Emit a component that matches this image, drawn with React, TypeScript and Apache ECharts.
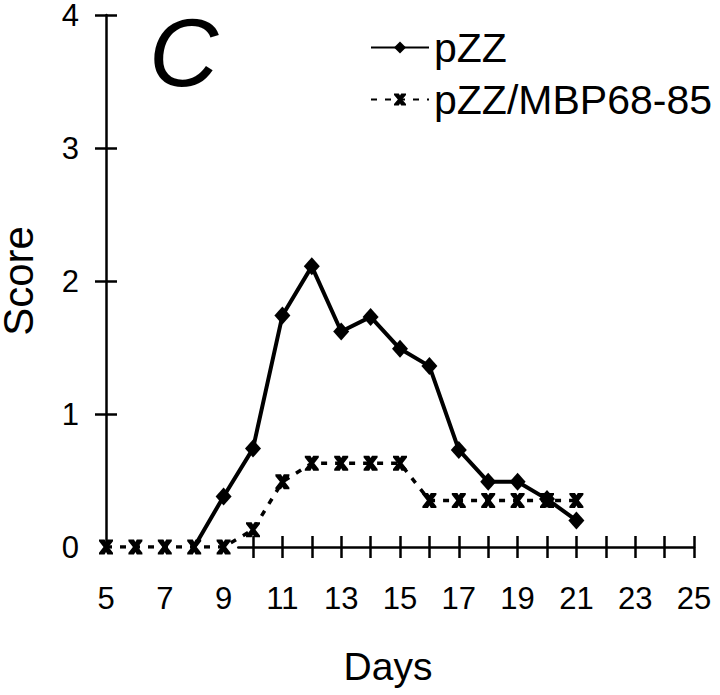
import React, { useEffect, useRef } from "react";
import * as echarts from "echarts";

const FONT = "'Liberation Sans', Arial, Helvetica, sans-serif";

// Data
const days = [5, 6, 7, 8, 9, 10, 11, 12, 13, 14, 15, 16, 17, 18, 19, 20, 21];
const pzzScores = [null, null, null, 0, 0.38, 0.74, 1.74, 2.11, 1.62, 1.73, 1.49, 1.36, 0.73, 0.49, 0.49, 0.36, 0.2];
const mbpScores = [0, 0, 0, 0, 0, 0.13, 0.49, 0.63, 0.63, 0.63, 0.63, 0.35, 0.35, 0.35, 0.35, 0.35, 0.35];
const seriesNames = ["pZZ", "pZZ/MBP68-85"];
const xTickValues = [10, 11, 12, 13, 14, 15, 16, 17, 18, 19, 20, 21, 22, 23, 24, 25];
const yTickValues = [1, 2, 3, 4];

const X_SYMBOL =
  "path://M0,0 L4,0 L5,1.6 L6,0 L10,0 L10,1.2 L6.8,5 L10,8.8 L10,10 L6,10 L5,8.4 L4,10 L0,10 L0,8.8 L3.2,5 L0,1.2 Z";

export default function App() {
  const ref = useRef<HTMLDivElement>(null);

  useEffect(() => {
    if (!ref.current) return;
    const chart = echarts.init(ref.current, null, { renderer: "svg" });

    const W = 720;
    const H = 695;
    const gl = 106;
    const gr = 26;
    const gt = 15;
    const gb = 148;
    const plotW = W - gl - gr;
    const plotH = H - gt - gb;
    const xMin = 5;
    const xMax = 25;
    const axisStart = 9.5;
    const dayW = plotW / (xMax - xMin);
    const gl1 = gl + (axisStart - xMin) * dayW;

    const black = "#000";
    const tickStyle = { color: black, width: 2.5 };

    chart.setOption({
      animation: false,
      backgroundColor: "#fff",
      textStyle: { fontFamily: FONT, color: black },
      grid: [
        { left: gl, right: gr, top: gt, bottom: gb, containLabel: false, outerBoundsMode: "none" },
        { left: gl1, right: gr, top: gt, bottom: gb, containLabel: false, outerBoundsMode: "none" },
      ],
      legend: {
        data: seriesNames,
        orient: "vertical",
        left: 365,
        top: 22,
        itemWidth: 58,
        itemHeight: 15,
        itemGap: 11,
        selectedMode: false,
        textStyle: { fontSize: 41, color: black, fontFamily: FONT },
      },
      graphic: [
        {
          type: "text",
          left: 149,
          top: 4,
          style: {
            text: "C",
            font: `italic 96px ${FONT}`,
            fill: black,
          },
        },
      ],
      xAxis: [
        {
          type: "value",
          gridIndex: 0,
          min: xMin,
          max: xMax,
          interval: 1,
          axisLine: { show: false },
          axisTick: { show: false },
          splitLine: { show: false },
          axisLabel: {
            formatter: (v: number) => (v % 2 === 1 ? String(v) : ""),
            fontSize: 31,
            color: black,
            margin: 36,
            fontFamily: FONT,
          },
          name: "Days",
          nameLocation: "middle",
          nameGap: 100,
          nameTextStyle: { fontSize: 39, color: black, fontFamily: FONT, padding: [0, 24, 0, 0] },
        },
        {
          type: "value",
          gridIndex: 1,
          min: axisStart,
          max: xMax,
          axisLine: { show: true, lineStyle: tickStyle },
          axisTick: { show: true, customValues: xTickValues, length: 11, lineStyle: tickStyle },
          axisLabel: { show: false },
          splitLine: { show: false },
        },
        {
          type: "value",
          gridIndex: 1,
          position: "top",
          offset: -plotH,
          min: axisStart,
          max: xMax,
          axisLine: { show: false },
          axisTick: { show: true, customValues: xTickValues, length: 11, lineStyle: tickStyle },
          axisLabel: { show: false },
          splitLine: { show: false },
        },
      ],
      yAxis: [
        {
          type: "value",
          gridIndex: 0,
          min: 0,
          max: 4,
          interval: 1,
          axisLine: { show: true, lineStyle: tickStyle },
          axisTick: { show: true, customValues: yTickValues, length: 11, lineStyle: tickStyle },
          axisLabel: { fontSize: 31, lineHeight: 20, color: black, margin: 27, fontFamily: FONT },
          splitLine: { show: false },
          name: "Score",
          nameLocation: "middle",
          nameRotate: 90,
          nameGap: 72,
          nameTextStyle: { fontSize: 42, lineHeight: 32, color: black, fontFamily: FONT },
        },
        {
          type: "value",
          gridIndex: 0,
          position: "right",
          offset: -plotW,
          min: 0,
          max: 4,
          interval: 1,
          axisLine: { show: false },
          axisTick: { show: true, customValues: yTickValues, length: 11, lineStyle: tickStyle },
          axisLabel: { show: false },
          splitLine: { show: false },
        },
        {
          type: "value",
          gridIndex: 1,
          min: 0,
          max: 4,
          show: false,
        },
      ],
      series: [
        {
          name: seriesNames[0],
          type: "line",
          xAxisIndex: 0,
          yAxisIndex: 0,
          data: days.map((d, i) => [d, pzzScores[i]]),
          symbol: "diamond",
          symbolSize: (v: any) => (v && v[1] > 0 ? [16, 18] : 0),
          itemStyle: { color: black },
          lineStyle: { color: black, width: 4 },
          z: 5,
        },
        {
          name: seriesNames[1],
          type: "line",
          xAxisIndex: 0,
          yAxisIndex: 0,
          data: days.map((d, i) => [d, mbpScores[i]]),
          symbol: X_SYMBOL,
          symbolSize: [14, 15],
          itemStyle: { color: black },
          lineStyle: { color: black, width: 3.5, type: [6, 8] },
          z: 6,
        },
      ],
    });

    return () => chart.dispose();
  }, []);

  return (
    <div
      ref={ref}
      style={{ position: "absolute", left: 0, top: 0, width: 720, height: 695, background: "#fff" }}
    />
  );
}
